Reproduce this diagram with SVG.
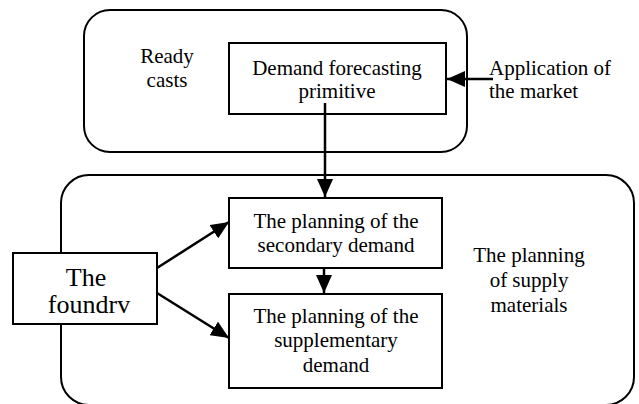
<svg xmlns="http://www.w3.org/2000/svg" width="639" height="404" viewBox="0 0 639 404">
<style>
.box{fill:#fff;stroke:#000;stroke-width:2}
.grp{fill:none;stroke:#000;stroke-width:2}
.t{font-family:"Liberation Serif","Times New Roman",serif;font-size:21px;fill:#000;text-anchor:middle}
.tl{text-anchor:start}
.big{font-size:26px}
.c{fill:none;stroke:#000;stroke-width:2.5}
</style>
<defs>
<marker id="ah" markerUnits="userSpaceOnUse" markerWidth="18" markerHeight="16" refX="18" refY="8" orient="auto" viewBox="0 0 18 16">
<path d="M0,0 L18,8 L0,16 z" fill="#000"/>
</marker>
</defs>
<g id="ready-casts">
<rect class="grp" x="84" y="10" width="383" height="142" rx="26" ry="26"/>
<text class="t" x="167" y="63">Ready</text>
<text class="t" x="167" y="87">casts</text>
</g>
<g id="supply-planning">
<rect class="grp" x="61" y="175" width="573" height="230" rx="28" ry="28"/>
<text class="t" x="529" y="262">The planning</text>
<text class="t" x="529" y="287">of supply</text>
<text class="t" x="529" y="312">materials</text>
</g>
<g id="demand-forecasting">
<rect class="box" x="229" y="43" width="217" height="71"/>
<text class="t" x="337" y="75">Demand forecasting</text>
<text class="t" x="337" y="98">primitive</text>
</g>
<g id="market">
<text class="t tl" x="489" y="75">Application of</text>
<text class="t tl" x="489" y="98">the market</text>
</g>
<g id="secondary">
<rect class="box" x="229" y="198" width="213" height="70"/>
<text class="t" x="336" y="228">The planning of the</text>
<text class="t" x="336" y="252">secondary demand</text>
</g>
<g id="supplementary">
<rect class="box" x="229" y="294" width="213" height="94"/>
<text class="t" x="336" y="323">The planning of the</text>
<text class="t" x="336" y="347">supplementary</text>
<text class="t" x="336" y="372">demand</text>
</g>
<g id="foundry">
<rect class="box" x="13" y="253" width="144" height="71"/>
<text class="t big" x="86" y="286">The</text>
<text class="t big" x="89" y="313">foundrv</text>
</g>
<g id="connectors">
<line class="c" x1="493" y1="79" x2="447" y2="79" marker-end="url(#ah)"/>
<line class="c" x1="325" y1="103" x2="325" y2="197" marker-end="url(#ah)"/>
<line class="c" x1="324" y1="268" x2="324" y2="293" marker-end="url(#ah)"/>
<line class="c" x1="157" y1="268" x2="229" y2="222" marker-end="url(#ah)"/>
<line class="c" x1="157" y1="293" x2="229" y2="338" marker-end="url(#ah)"/>
</g>
</svg>
